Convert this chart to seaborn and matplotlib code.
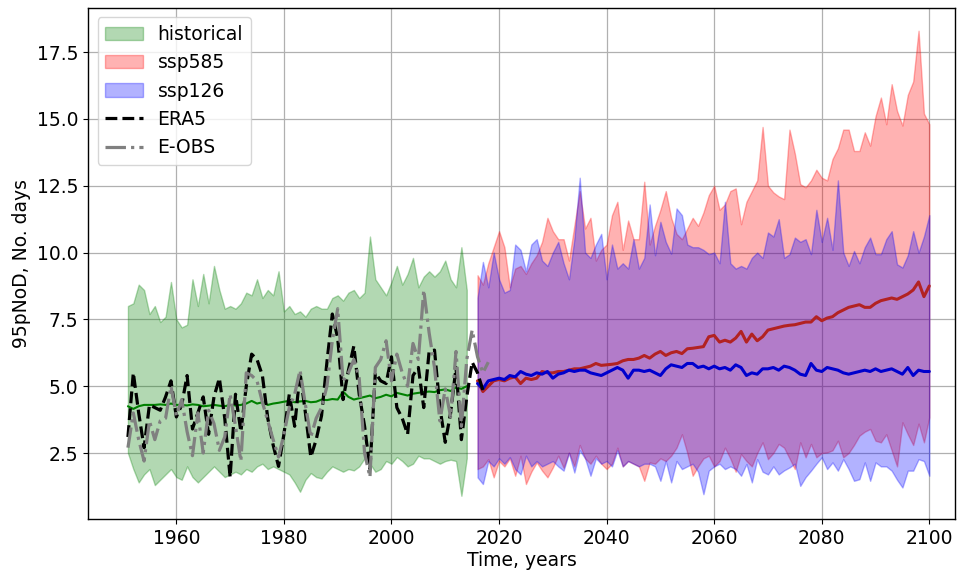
import numpy as np
import matplotlib
matplotlib.use("Agg")
import matplotlib.pyplot as plt
import seaborn as sns

# ---- data ----
hist_years = list(range(1951, 2015))
hist_mean = [4.25, 4.15, 4.25, 4.3, 4.3, 4.3, 4.32, 4.3, 4.35, 4.3,
             4.3, 4.28, 4.32, 4.3, 4.25, 4.27, 4.3, 4.27, 4.25, 4.3,
             4.28, 4.3, 4.35, 4.45, 4.35, 4.4, 4.3, 4.35, 4.38, 4.42,
             4.45, 4.4, 4.43, 4.45, 4.4, 4.42, 4.5, 4.48, 4.52, 4.5,
             4.8, 4.6, 4.5, 4.55, 4.6, 4.65, 4.55, 4.6, 4.68, 4.62,
             4.75, 4.7, 4.65, 4.72, 4.75, 4.78, 4.8, 4.78, 4.85, 4.88,
             4.82, 4.95, 4.9, 5.0]
hist_low = [2.5, 1.9, 1.4, 1.7, 1.9, 1.3, 1.5, 1.7, 1.9, 1.6,
            1.5, 2.0, 1.6, 1.4, 1.6, 1.8, 2.0, 1.8, 1.6, 1.7,
            1.8, 1.7, 1.9, 1.8, 2.0, 2.1, 1.9, 2.0, 1.9, 1.8,
            1.7, 1.4, 1.05, 1.5, 1.75, 1.6, 1.55, 1.8, 2.0, 1.9,
            1.8, 1.9, 1.85, 2.0, 2.3, 2.1, 1.8, 1.9, 2.2, 2.1,
            2.35, 2.2, 2.0, 2.1, 2.4, 2.3, 2.3, 2.2, 2.1, 2.2,
            2.25, 2.2, 0.9, 2.3]
hist_high = [8.0, 8.1, 8.8, 8.6, 7.7, 8.0, 7.4, 7.6, 8.9, 7.5,
             7.2, 7.3, 9.0, 8.0, 9.2, 8.1, 9.5, 8.6, 7.9, 8.0,
             7.9, 8.1, 8.5, 8.4, 9.0, 8.3, 8.6, 8.4, 9.3, 7.8,
             8.0, 7.7, 7.8, 7.6, 7.9, 8.0, 7.9, 7.9, 8.3, 8.4,
             8.2, 8.5, 8.6, 8.3, 8.5, 10.6, 9.0, 8.7, 8.4, 8.9,
             9.5, 8.8, 9.2, 9.8, 8.7, 9.1, 9.3, 9.1, 9.3, 9.7,
             9.0, 8.7, 10.2, 8.6]

era5_years = list(range(1951, 2018))
era5 = [3.1, 5.5, 4.0, 2.7, 4.3, 4.2, 4.1, 4.6, 5.2, 3.85,
        4.3, 5.4, 3.4, 4.0, 4.6, 3.2, 4.6, 5.3, 3.8, 1.6,
        4.7, 3.3, 5.0, 6.2, 6.0, 5.4, 3.8, 2.8, 2.0, 3.2,
        4.7, 3.5, 5.5, 4.0, 2.35, 3.0, 3.9, 5.9, 7.7, 6.8,
        4.5, 5.6, 6.5, 4.7, 3.5, 1.9, 5.5, 5.2, 5.1, 6.1,
        4.2, 3.8, 3.2, 5.4, 5.7, 4.2, 6.3, 6.35, 4.2, 2.9,
        4.0, 5.7, 3.0, 4.6, 5.9, 5.5, 4.85]

eobs_years = list(range(1951, 2019))
eobs = [2.7, 4.0, 3.0, 2.2, 3.7, 3.0, 3.7, 3.8, 5.0, 3.9,
        4.5, 3.3, 2.4, 4.0, 2.5, 4.1, 3.6, 2.6, 3.1, 4.7,
        3.5, 2.2, 5.5, 5.4, 5.2, 4.4, 3.7, 3.0, 2.35, 3.2,
        4.2, 4.7, 5.6, 4.3, 3.1, 3.8, 4.2, 5.0, 6.7, 7.9,
        5.2, 5.5, 6.0, 5.3, 2.5, 1.6, 5.7, 6.0, 6.7, 5.2,
        6.2, 5.5, 5.0, 6.6, 6.0, 8.6, 7.0, 5.7, 3.7, 4.9,
        3.85, 6.3, 3.5, 6.0, 7.1, 6.1, 5.5, 5.9]

ssp_years = list(range(2016, 2101))
ssp585_mean = [5.2, 4.8, 5.0, 5.2, 5.25, 5.2, 5.3, 5.35, 5.1, 5.3,
               5.25, 5.3, 5.55, 5.5, 5.5, 5.55, 5.55, 5.6, 5.65, 5.65,
               5.7, 5.75, 5.85, 5.78, 5.8, 5.82, 5.85, 5.95, 6.0, 6.0,
               6.05, 6.15, 6.05, 6.2, 6.3, 6.15, 6.25, 6.3, 6.22, 6.4,
               6.42, 6.45, 6.48, 6.85, 6.9, 6.65, 6.72, 6.65, 6.8, 7.05,
               6.65, 6.95, 6.7, 6.85, 7.1, 7.15, 7.2, 7.25, 7.28, 7.3,
               7.35, 7.4, 7.4, 7.6, 7.45, 7.55, 7.6, 7.75, 7.85, 7.95,
               8.0, 8.05, 7.95, 7.95, 8.1, 8.2, 8.25, 8.3, 8.25, 8.35,
               8.45, 8.6, 8.9, 8.35, 8.75]
ssp585_low = [1.9, 2.0, 2.27, 1.59, 2.2, 2.0, 2.3, 1.65, 2.4, 1.34,
              1.8, 2.15, 1.84, 1.59, 1.96, 2.4, 1.95, 2.52, 2.0, 2.8,
              2.3, 2.1, 2.4, 2.1, 1.9, 2.1, 2.7, 2.0, 2.2, 2.1,
              2.0, 1.46, 2.15, 2.1, 2.3, 2.2, 2.4, 2.7, 3.2, 2.5,
              1.65, 2.0, 2.3, 2.4, 2.0, 2.2, 2.7, 2.3, 1.8, 2.46,
              2.2, 2.0, 2.5, 2.9, 2.27, 2.5, 2.84, 2.7, 2.3, 1.9,
              2.9, 2.34, 2.84, 2.34, 2.5, 2.52, 2.6, 2.96, 2.34, 2.5,
              2.8, 3.15, 3.3, 3.4, 2.96, 2.9, 3.2, 2.6, 2.0, 3.65,
              3.2, 2.8, 3.6, 2.9, 3.84]
ssp585_high = [9.15, 8.8, 9.6, 10.2, 10.8, 10.2, 8.7, 9.4, 9.5, 9.2,
               9.6, 9.9, 10.4, 11.3, 10.8, 10.5, 10.5, 9.7, 11.0, 12.3,
               10.9, 11.3, 9.7, 10.1, 10.3, 11.4, 11.9, 10.1, 11.2, 10.5,
               10.5, 12.65, 10.3, 11.0, 11.6, 12.3, 11.3, 10.7, 10.5, 10.9,
               11.3, 11.0, 11.5, 12.15, 12.5, 11.6, 11.8, 12.3, 12.4, 11.06,
               11.9, 12.3, 12.7, 14.7, 12.5, 12.25, 12.1, 12.0, 14.6, 13.7,
               12.56, 12.44, 12.7, 13.1, 12.8, 12.7, 13.5, 13.9, 14.6, 14.6,
               13.8, 13.8, 14.5, 14.0, 15.1, 15.8, 14.8, 16.3, 15.3, 14.75,
               15.9, 16.4, 18.3, 15.2, 14.8]

ssp126_mean = [5.1, 4.9, 5.2, 5.25, 5.3, 5.25, 5.4, 5.35, 5.55, 5.45,
               5.4, 5.5, 5.45, 5.55, 5.3, 5.45, 5.5, 5.6, 5.55, 5.6,
               5.6, 5.5, 5.45, 5.4, 5.5, 5.6, 5.7, 5.6, 5.3, 5.6,
               5.6, 5.55, 5.6, 5.5, 5.4, 5.65, 5.8, 5.75, 5.7, 5.85,
               5.85, 5.7, 5.75, 5.65, 5.75, 5.65, 5.7, 5.6, 5.8, 5.7,
               5.4, 5.5, 5.45, 5.65, 5.65, 5.7, 5.6, 5.75, 5.7, 5.6,
               5.45, 5.4, 5.85, 5.6, 5.55, 5.7, 5.65, 5.6, 5.5, 5.45,
               5.5, 5.55, 5.6, 5.55, 5.65, 5.55, 5.6, 5.65, 5.55, 5.45,
               5.7, 5.4, 5.6, 5.55, 5.55]
ssp126_low = [1.59, 1.34, 2.2, 2.0, 2.3, 2.1, 2.35, 1.9, 1.7, 2.4,
              2.0, 2.2, 2.0, 2.1, 2.2, 2.0, 1.84, 2.5, 1.77, 2.6,
              2.3, 1.65, 2.3, 2.1, 2.2, 2.0, 2.6, 2.0, 2.2, 2.1,
              2.0, 2.1, 2.1, 2.0, 1.46, 2.2, 1.4, 2.2, 1.9, 2.0,
              2.1, 1.8, 0.96, 1.84, 2.0, 2.1, 1.9, 2.0, 1.9, 1.65,
              2.09, 1.4, 2.27, 1.8, 1.7, 2.0, 1.7, 1.85, 1.96, 2.1,
              1.27, 1.6, 1.84, 2.1, 2.34, 1.9, 2.15, 1.84, 2.27, 1.9,
              1.46, 1.52, 2.15, 1.46, 2.15, 2.0, 2.0, 1.84, 1.5, 1.21,
              1.84, 1.84, 2.27, 2.2, 1.65]
ssp126_high = [8.3, 9.65, 8.7, 10.0, 9.0, 8.5, 8.6, 10.3, 10.1, 9.3,
               10.3, 10.5, 9.7, 9.5, 10.0, 10.4, 9.6, 9.0, 10.5, 12.8,
               10.0, 9.8, 10.3, 10.7, 9.0, 10.3, 9.4, 9.6, 9.4, 10.5,
               9.4, 9.8, 11.8, 9.9, 11.15, 10.4, 9.96, 11.65, 11.4, 10.3,
               10.2, 10.2, 10.1, 9.94, 10.0, 9.6, 11.9, 9.6, 9.4, 9.5,
               9.4, 9.8, 10.0, 9.8, 10.75, 10.6, 11.25, 9.8, 9.94, 10.56,
               10.4, 10.5, 9.94, 11.6, 10.4, 11.3, 10.1, 12.7, 10.0, 9.5,
               10.06, 9.6, 10.2, 10.56, 9.94, 9.94, 10.5, 10.8, 9.56, 9.44,
               9.9, 10.8, 10.0, 10.6, 11.4]

# ---- plot ----
sns.set_style("ticks")
plt.rcParams['font.family'] = ['DejaVu Sans']
plt.rcParams['text.color'] = 'black'
plt.rcParams['axes.labelcolor'] = 'black'
plt.rcParams['xtick.color'] = 'black'
plt.rcParams['ytick.color'] = 'black'
fs = 13.5

fig, ax = plt.subplots(figsize=(9.58, 5.71), dpi=100)
fig.subplots_adjust(left=0.092, right=0.997, bottom=0.091, top=0.986)

ax.fill_between(hist_years, hist_low, hist_high, color='green', alpha=0.3,
                linewidth=1, label='historical')
ax.fill_between(ssp_years, ssp585_low, ssp585_high, color='red', alpha=0.3,
                linewidth=1, label='ssp585')
ax.fill_between(ssp_years, ssp126_low, ssp126_high, color='blue', alpha=0.3,
                linewidth=1, label='ssp126')

sns.lineplot(x=hist_years, y=hist_mean, color='green', linewidth=1.5, ax=ax)
sns.lineplot(x=ssp_years, y=ssp585_mean, color='firebrick', linewidth=2.2, ax=ax)
sns.lineplot(x=ssp_years, y=ssp126_mean, color='mediumblue', linewidth=2.2, ax=ax)

sns.lineplot(x=era5_years, y=era5, color='black', linestyle='--',
             linewidth=2.3, label='ERA5', ax=ax)
sns.lineplot(x=eobs_years, y=eobs, color='gray', linestyle='-.',
             linewidth=2.3, label='E-OBS', ax=ax)

ax.set_xlim(1943.6, 2104.8)
ax.set_ylim(0.03, 19.15)
ax.set_xticks(np.arange(1960, 2101, 20))
ax.set_yticks(np.arange(2.5, 17.6, 2.5))
ax.grid(True, color='#b0b0b0', linewidth=0.9)
ax.tick_params(labelsize=fs)
for s in ax.spines.values():
    s.set_color('black')
    s.set_linewidth(1.0)

ax.set_xlabel('Time, years', fontsize=fs, labelpad=2)
ax.set_ylabel('95pNoD, No. days', fontsize=fs)

ax.legend(loc='upper left', fontsize=fs, framealpha=0.8)

fig.savefig('out.png', dpi=100)
